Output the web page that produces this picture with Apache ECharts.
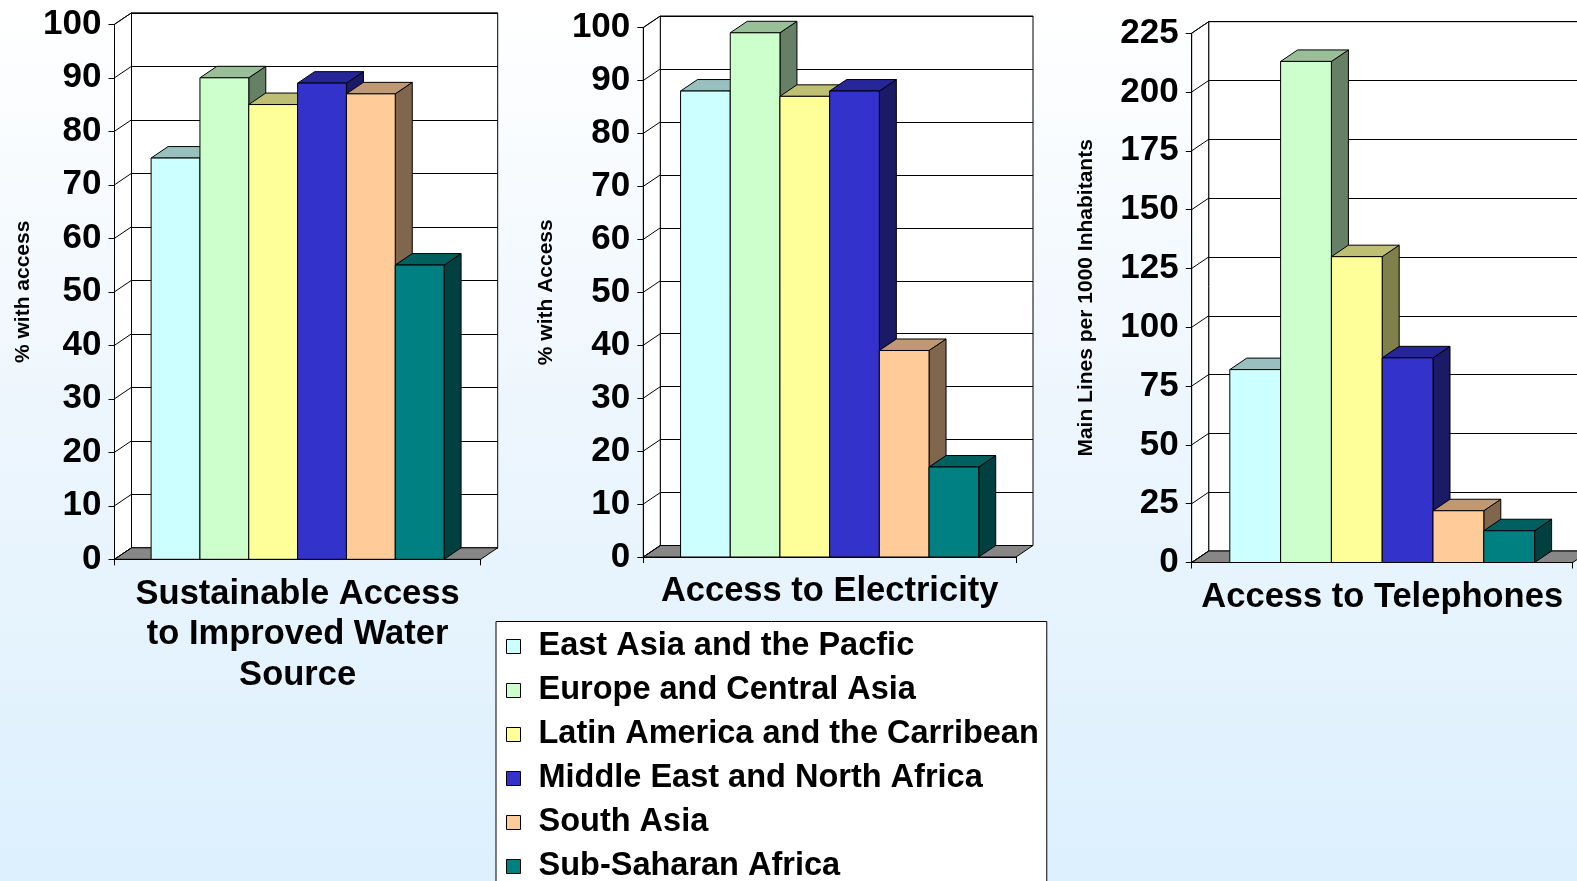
<!DOCTYPE html>
<html>
<head>
<meta charset="utf-8">
<title>Access indicators by region</title>
<script src="https://cdn.jsdelivr.net/npm/echarts@6.0.0/dist/echarts.min.js"></script>
<style>
  html, body { margin: 0; padding: 0; overflow: hidden; }
  #chart { width: 1577px; height: 881px; }
</style>
</head>
<body>
<div id="chart"></div>
<script>
var regions = ['East Asia and the Pacfic', 'Europe and Central Asia', 'Latin America and the Carribean',
  'Middle East and North Africa', 'South Asia', 'Sub-Saharan Africa'];
var indicators = ['Sustainable Access\nto Improved Water\nSource', 'Access to Electricity', 'Access to Telephones'];
var axisNames = ['% with access', '% with Access', 'Main Lines per 1000 Inhabitants'];
var waterValues = [75, 90, 85, 89, 87, 55];
var electricityValues = [88, 99, 87, 88, 39, 17];
var telephoneValues = [82, 213, 130, 87, 22, 13.5];
var percentTicks = [0, 10, 20, 30, 40, 50, 60, 70, 80, 90, 100];
var phoneTicks = [0, 25, 50, 75, 100, 125, 150, 175, 200, 225];

(function(){
  'use strict';
  var FONT = '"Liberation Sans", Arial, Helvetica, sans-serif';
  var colors = ['#CCFFFF', '#CCFFCC', '#FFFF99', '#3333CC', '#FFCC99', '#008080'];
  var DX = 17, DY = 11.5, BAR_SPAN = 0.8;
  // front plane of each 3d panel
  var boxes = [
    { left: 114.5, top: 24.3, width: 366.2, height: 535 },
    { left: 643.3, top: 27.5, width: 372.7, height: 529.5 },
    { left: 1191.7, top: 33.2, width: 381, height: 529.3 }
  ];
  var nameGaps = [91.5, 97, 105.6];
  var panels = [
    { title: indicators[0], name: axisNames[0], values: waterValues, ticks: percentTicks },
    { title: indicators[1], name: axisNames[1], values: electricityValues, ticks: percentTicks },
    { title: indicators[2], name: axisNames[2], values: telephoneValues, ticks: phoneTicks }
  ];
  var line = { stroke: '#000', lineWidth: 1 };

  // darken a #rrggbb colour by factor f (0..1)
  function shade(hex, f){
    var n = parseInt(hex.slice(1), 16);
    var r = Math.round(((n >> 16) & 255) * f), g = Math.round(((n >> 8) & 255) * f), b = Math.round((n & 255) * f);
    return 'rgb(' + r + ',' + g + ',' + b + ')';
  }

  function wallRenderer(ticks){
    return function(params, api){
      var cs = params.coordSys;
      var x = cs.x, y = cs.y, w = cs.width, bottom = cs.y + cs.height;
      var kids = [
        { type: 'polygon', shape: { points: [[x, bottom], [x, y], [x + DX, y - DY], [x + DX, bottom - DY]] },
          style: { fill: '#fff', stroke: '#000', lineWidth: 1 } },
        { type: 'polygon', shape: { points: [[x, bottom], [x + w, bottom], [x + w + DX, bottom - DY], [x + DX, bottom - DY]] },
          style: { fill: '#878787', stroke: '#000', lineWidth: 1 } }
      ];
      ticks.forEach(function(t){
        var ty = api.coord([0, t])[1];
        kids.push({ type: 'line', shape: { x1: x, y1: ty, x2: x + DX, y2: ty - DY }, style: line });
      });
      return { type: 'group', children: kids };
    };
  }

  function barRenderer(k, color){
    var topFill = shade(color, 0.75);
    var sideFill = shade(color, 0.5);
    return function(params, api){
      var base = api.coord([api.value(0), 0]);
      var head = api.coord([api.value(0), api.value(1)]);
      var band = api.size([1, 0])[0];
      var bw = band * BAR_SPAN / regions.length;
      var x0 = base[0] - band * BAR_SPAN / 2 + k * bw, x1 = x0 + bw;
      var yb = base[1], yt = head[1];
      return { type: 'group', children: [
        { type: 'polygon', shape: { points: [[x1, yt], [x1 + DX, yt - DY], [x1 + DX, yb - DY], [x1, yb]] },
          style: { fill: sideFill, stroke: '#000', lineWidth: 1 } },
        { type: 'polygon', shape: { points: [[x0, yt], [x1, yt], [x1 + DX, yt - DY], [x0 + DX, yt - DY]] },
          style: { fill: topFill, stroke: '#000', lineWidth: 1 } },
        { type: 'rect', shape: { x: x0, y: yt, width: bw, height: yb - yt },
          style: { fill: color, stroke: '#000', lineWidth: 1 } }
      ] };
    };
  }

  var grids = [], xAxes = [], yAxes = [], series = [];
  panels.forEach(function(p, i){
    var b = boxes[i];
    var min = p.ticks[0], max = p.ticks[p.ticks.length - 1], step = p.ticks[1] - p.ticks[0];
    var back = grids.length, front = back + 1;
    grids.push({ left: b.left + DX, top: b.top - DY, width: b.width, height: b.height, show: true,
      backgroundColor: '#fff', borderColor: '#000', borderWidth: 1, outerBoundsMode: 'none' });
    grids.push({ left: b.left, top: b.top, width: b.width, height: b.height, outerBoundsMode: 'none' });
    xAxes.push({ type: 'category', gridIndex: back, data: [p.title], show: false });
    yAxes.push({ type: 'value', gridIndex: back, min: min, max: max, interval: step,
      axisLine: { show: false }, axisTick: { show: false }, axisLabel: { show: false },
      splitLine: { show: true, lineStyle: { color: '#000', width: 1 } } });
    xAxes.push({ type: 'category', gridIndex: front, data: [p.title], z: 20,
      axisLine: { lineStyle: { color: '#000', width: 1 } },
      axisTick: { show: true, length: 6, lineStyle: { color: '#000' } },
      axisLabel: { fontFamily: FONT, fontSize: 34.5, fontWeight: 'bold', color: '#000', lineHeight: 40.5, margin: 14.5, interval: 0 } });
    yAxes.push({ type: 'value', gridIndex: front, min: min, max: max, interval: step, z: 20,
      name: p.name, nameLocation: 'middle', nameRotate: 90, nameGap: nameGaps[i],
      nameTextStyle: { fontFamily: FONT, fontSize: 21, fontWeight: 'bold', color: '#000', align: 'center', verticalAlign: 'middle' },
      axisLine: { show: true, lineStyle: { color: '#000', width: 1 } },
      axisTick: { show: true, length: 6, lineStyle: { color: '#000' } },
      axisLabel: { fontFamily: FONT, fontSize: 35, fontWeight: 'bold', color: '#000', margin: 13 },
      splitLine: { show: false } });
    series.push({ type: 'custom', xAxisIndex: front, yAxisIndex: front, silent: true, z: 2, clip: false,
      data: [[0, min]], renderItem: wallRenderer(p.ticks) });
    regions.forEach(function(r, k){
      series.push({ type: 'custom', name: r, xAxisIndex: front, yAxisIndex: front, z: 3 + k, clip: false,
        itemStyle: { color: colors[k] }, data: [[0, p.values[k]]], renderItem: barRenderer(k, colors[k]) });
    });
  });

  var chart = echarts.init(document.getElementById('chart'), null, { renderer: 'canvas' });
  chart.setOption({
    animation: false,
    backgroundColor: new echarts.graphic.LinearGradient(0, 0, 0, 1, [
      { offset: 0, color: '#ffffff' }, { offset: 0.45, color: '#eef6fd' }, { offset: 1, color: '#dcf0fd' }
    ]),
    textStyle: { fontFamily: FONT },
    legend: {
      data: regions, orient: 'vertical', left: 496, top: 621.5, height: 600, icon: 'rect',
      itemWidth: 14, itemHeight: 14, itemGap: 10,
      backgroundColor: '#fff', borderColor: '#000', borderWidth: 1, borderRadius: 0,
      padding: [8, 8, 8, 10],
      itemStyle: { borderColor: '#000', borderWidth: 1 },
      textStyle: { fontFamily: FONT, fontSize: 32.5, fontWeight: 'bold', color: '#000', lineHeight: 34, padding: [0, 0, 0, 13] }
    },
    grid: grids,
    xAxis: xAxes,
    yAxis: yAxes,
    series: series
  });
})();
</script>
</body>
</html>
